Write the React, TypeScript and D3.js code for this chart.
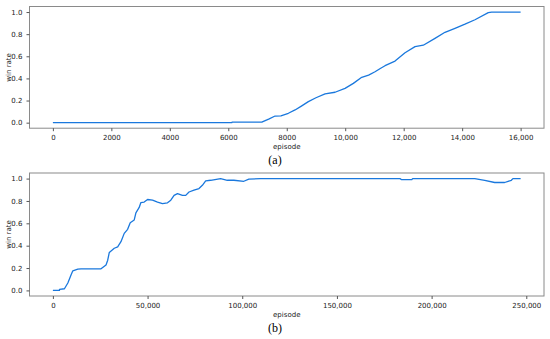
import { useEffect, useRef } from "react";
import * as d3 from "d3";

// panel (a): episode vs win rate, 16k episodes
const episodesA = [0, 6120, 6130, 7145, 7400, 7600, 7800, 8055, 8284, 8500, 8739, 9000, 9310, 9652, 9994, 10278, 10565, 10800, 11020, 11200, 11362, 11704, 12046, 12388, 12671, 13071, 13413, 13755, 14097, 14439, 14893, 15009, 16000];
const winRateA = [0, 0, 0.005, 0.005, 0.035, 0.06, 0.062, 0.085, 0.115, 0.15, 0.19, 0.225, 0.26, 0.275, 0.31, 0.355, 0.41, 0.43, 0.46, 0.49, 0.515, 0.557, 0.632, 0.687, 0.7, 0.762, 0.817, 0.853, 0.89, 0.93, 0.994, 1.0, 1.0];
const ticksA = [0, 2000, 4000, 6000, 8000, 10000, 12000, 14000, 16000];

// panel (b): episode vs win rate, 250k episodes
const episodesB = [0, 3470, 3500, 6100, 7900, 9630, 10530, 13160, 14890, 25420, 28050, 28950, 29790, 32420, 34210, 35950, 37680, 39470, 40840, 42950, 43840, 45580, 46470, 48210, 50000, 52630, 55260, 57890, 60520, 62260, 64000, 65790, 68420, 70150, 71890, 74520, 77160, 78940, 80680, 83310, 88580, 92100, 95580, 100840, 103470, 109630, 183300, 184200, 189470, 190000, 222780, 228040, 233300, 238570, 242100, 242940, 247000];
const winRateB = [0, 0, 0.01, 0.015, 0.066, 0.14, 0.175, 0.19, 0.193, 0.193, 0.228, 0.27, 0.34, 0.377, 0.39, 0.436, 0.51, 0.546, 0.605, 0.63, 0.694, 0.742, 0.786, 0.79, 0.813, 0.807, 0.79, 0.777, 0.783, 0.807, 0.85, 0.866, 0.85, 0.85, 0.88, 0.896, 0.911, 0.94, 0.98, 0.985, 1.0, 0.985, 0.985, 0.976, 0.995, 1.0, 1.0, 0.99, 0.99, 1.0, 1.0, 0.985, 0.965, 0.965, 0.985, 1.0, 1.0];
const ticksB = [0, 50000, 100000, 150000, 200000, 250000];

const yTicks = [0, 0.2, 0.4, 0.6, 0.8, 1.0];

const LINE = "#1a78dd";
const SPINE = "#8a8a8a";
const TEXT = "#222";
const SANS = "'DejaVu Sans', sans-serif";

interface PanelOpts {
  top: number;
  bottom: number;
  xs: number[];
  ys: number[];
  xMax: number;
  xTicks: number[];
  fmt: (d: number) => string;
  caption: string;
}

function drawPanel(svg: d3.Selection<SVGSVGElement, unknown, null, undefined>, o: PanelOpts) {
  const left = 29.5, right = 544;
  const pad = o.xMax * 0.05;
  const x = d3.scaleLinear().domain([-pad, o.xMax + pad]).range([left, right]);
  const y = d3.scaleLinear().domain([-0.05, 1.05]).range([o.bottom, o.top]);

  const g = svg.append("g");

  g.append("rect")
    .attr("x", left).attr("y", o.top)
    .attr("width", right - left).attr("height", o.bottom - o.top)
    .attr("fill", "none").attr("stroke", SPINE).attr("stroke-width", 1);

  const pts = o.xs.map((v, i) => [v, o.ys[i]] as [number, number]);
  const line = d3.line<[number, number]>().x((d) => x(d[0])).y((d) => y(d[1]));
  g.append("path").attr("d", line(pts)).attr("fill", "none")
    .attr("stroke", LINE).attr("stroke-width", 1.3).attr("stroke-linejoin", "round");

  const xa = d3.axisBottom(x).tickValues(o.xTicks).tickFormat((d) => o.fmt(+d)).tickSize(3).tickPadding(4);
  g.append("g").attr("transform", `translate(0,${o.bottom})`).call(xa)
    .call((a) => a.select(".domain").remove())
    .call((a) => a.selectAll(".tick line").attr("stroke", "#555"))
    .call((a) => a.selectAll("text").attr("fill", TEXT).attr("font-size", 7).attr("font-family", SANS));

  const ya = d3.axisLeft(y).tickValues(yTicks).tickFormat(d3.format(".1f")).tickSize(3).tickPadding(4);
  g.append("g").attr("transform", `translate(${left},0)`).call(ya)
    .call((a) => a.select(".domain").remove())
    .call((a) => a.selectAll(".tick line").attr("stroke", "#555"))
    .call((a) => a.selectAll("text").attr("fill", TEXT).attr("font-size", 7).attr("font-family", SANS));

  g.append("text")
    .attr("x", (left + right) / 2).attr("y", o.bottom + 21)
    .attr("text-anchor", "middle").attr("font-size", 7).attr("font-family", SANS).attr("fill", TEXT)
    .text("episode");

  g.append("text")
    .attr("transform", `translate(11,${(o.top + o.bottom) / 2}) rotate(-90)`)
    .attr("text-anchor", "middle").attr("font-size", 7).attr("font-family", SANS).attr("fill", TEXT)
    .text("win rate");

  g.append("text")
    .attr("x", 275).attr("y", o.bottom + 36)
    .attr("text-anchor", "middle").attr("font-size", 12).attr("font-family", "'Liberation Serif', serif").attr("fill", "#000")
    .text(o.caption);
}

export default function App() {
  const ref = useRef<SVGSVGElement>(null);

  useEffect(() => {
    const el = ref.current;
    if (!el) return;
    const svg = d3.select(el);
    svg.selectAll("*").remove();

    const plain = (d: number) => String(d);
    const comma = d3.format(",");

    drawPanel(svg, {
      top: 6.5, bottom: 128.2, xs: episodesA, ys: winRateA, xMax: 16000,
      xTicks: ticksA, fmt: (d) => (d >= 10000 ? comma(d) : plain(d)), caption: "(a)",
    });
    drawPanel(svg, {
      top: 173, bottom: 296, xs: episodesB, ys: winRateB, xMax: 247000,
      xTicks: ticksB, fmt: comma, caption: "(b)",
    });
  }, []);

  return (
    <svg
      ref={ref}
      width={550}
      height={339}
      style={{ position: "absolute", left: 0, top: 0, background: "#fff" }}
    />
  );
}
